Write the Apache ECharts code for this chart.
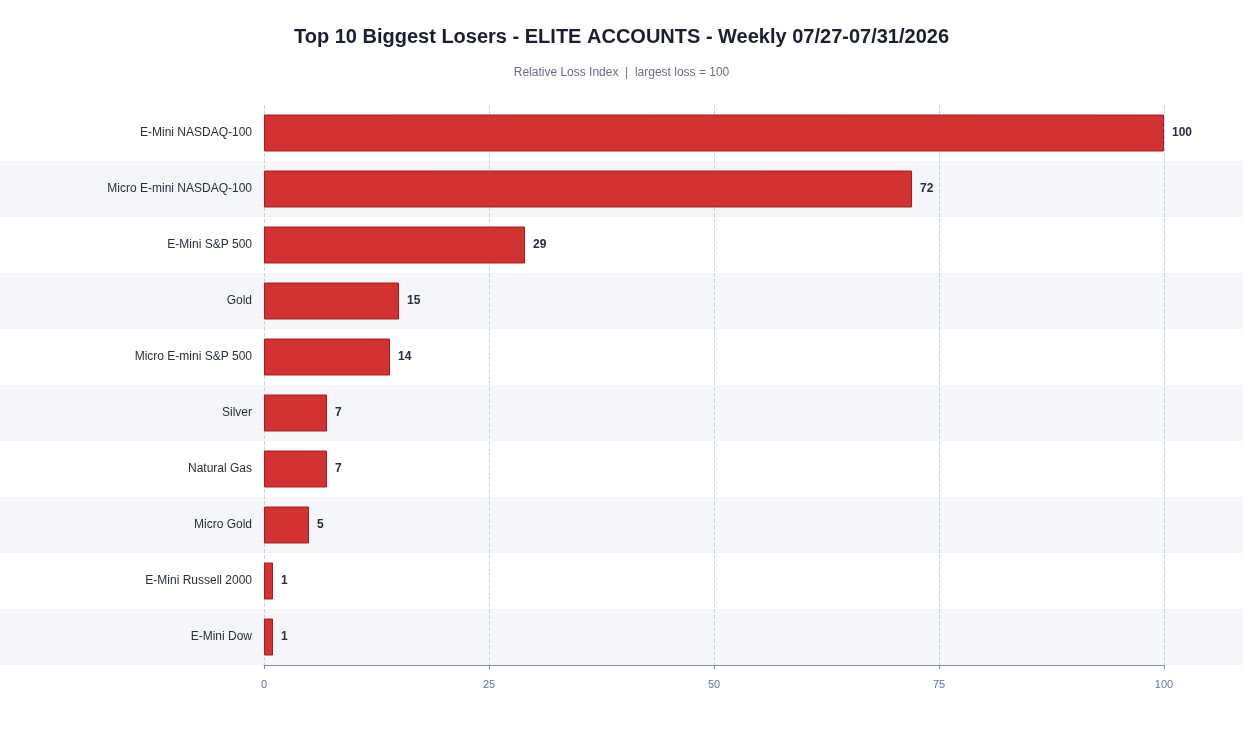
<!DOCTYPE html>
<html><head><meta charset="utf-8">
<script src="https://cdn.jsdelivr.net/npm/echarts@6/dist/echarts.min.js"></script>
<style>html,body{margin:0;padding:0;background:#fff}#c{width:1243px;height:729px}</style>
</head><body><div id="c"></div>
<script>
const categories = ["E-Mini NASDAQ-100","Micro E-mini NASDAQ-100","E-Mini S&P 500","Gold","Micro E-mini S&P 500","Silver","Natural Gas","Micro Gold","E-Mini Russell 2000","E-Mini Dow"];
const values = [100,72,29,15,14,7,7,5,1,1];
const xTicks = [0,25,50,75,100];

const chart = echarts.init(document.getElementById('c'));
const cats = categories.slice().reverse();
const vals = values.slice().reverse();
chart.setOption({
  backgroundColor:'#ffffff',
  animation:false,
  title:[{
    text:'Top 10 Biggest Losers - ELITE ACCOUNTS - Weekly 07/27-07/31/2026',
    left:'center', top:22,
    textStyle:{fontFamily:'Liberation Sans, Arial', fontSize:20, fontWeight:'bold', color:'#1a1d33'},
    subtext:'Relative Loss Index  |  largest loss = 100',
    itemGap:20,
    subtextStyle:{fontFamily:'Liberation Sans, Arial', fontSize:12, color:'#6b6f80'}
  }],
  grid:[
    {left:264, right:79, top:105, bottom:64},
    {left:0, right:0, top:105, bottom:64, z:0}
  ],
  xAxis:[
    {type:'value', gridIndex:0, min:xTicks[0], max:xTicks[xTicks.length-1], interval:25,
     axisLine:{show:true, lineStyle:{color:'#8a8d9c'}},
     axisTick:{show:true, length:4, lineStyle:{color:'#8a8d9c'}},
     axisLabel:{color:'#5b76a8', fontSize:11, margin:14, fontFamily:'Liberation Sans, Arial'},
     splitLine:{show:true, lineStyle:{type:'dashed', color:'#cdd1e4'}}},
    {type:'value', gridIndex:1, show:false, min:0, max:1}
  ],
  yAxis:[
    {type:'category', gridIndex:0, data:cats,
     axisLine:{show:false}, axisTick:{show:false},
     axisLabel:{color:'#2a2d40', fontSize:12, margin:12, fontFamily:'Liberation Sans, Arial'}},
    {type:'category', gridIndex:1, data:cats,
     axisLine:{show:false}, axisTick:{show:false}, axisLabel:{show:false},
     splitLine:{show:false},
     splitArea:{show:true, areaStyle:{color:['#f5f6fa','#ffffff']}}}
  ],
  series:[{
    type:'bar', xAxisIndex:0, yAxisIndex:0, data:vals, barWidth:'66%',
    itemStyle:{color:'#d33233', borderColor:'#a81c1c', borderWidth:1},
    label:{show:true, position:'right', distance:8, fontWeight:'bold', fontSize:12, color:'#2a2d40', fontFamily:'Liberation Sans, Arial'}
  }]
});
</script></body></html>
